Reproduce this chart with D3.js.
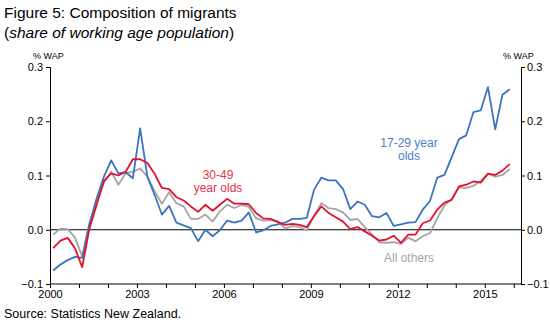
<!DOCTYPE html>
<html>
<head>
<meta charset="utf-8">
<script src="https://cdn.jsdelivr.net/npm/d3@7"></script>
<style>
  body { margin: 0; background: #fff; }
  svg { font-family: Arial, "Liberation Sans", sans-serif; }
</style>
</head>
<body>
<svg width="550" height="322"></svg>
<script>
var svg = d3.select("svg"),
    width = +svg.attr("width"),
    height = +svg.attr("height");

// quarterly, 2000Q1 .. 2015Q4
var startYear = 2000;

var young = [-0.075, -0.064, -0.056, -0.050, -0.052, 0.010, 0.058, 0.098,
  0.128, 0.104, 0.106, 0.095, 0.187, 0.098, 0.064, 0.028,
  0.044, 0.013, 0.008, 0.003, -0.021, 0.000, -0.012, -0.001,
  0.017, 0.013, 0.017, 0.032, -0.005, -0.001, 0.007, 0.010,
  0.013, 0.020, 0.020, 0.022, 0.074, 0.096, 0.091, 0.091,
  0.075, 0.038, 0.052, 0.046, 0.025, 0.023, 0.031, 0.007,
  0.010, 0.013, 0.014, 0.037, 0.053, 0.096, 0.101, 0.134,
  0.167, 0.174, 0.217, 0.220, 0.263, 0.185, 0.249, 0.259];

var middle = [-0.034, -0.020, -0.015, -0.034, -0.069, 0.002, 0.046, 0.090,
  0.104, 0.100, 0.107, 0.130, 0.130, 0.123, 0.103, 0.077,
  0.075, 0.060, 0.054, 0.043, 0.033, 0.046, 0.035, 0.046,
  0.057, 0.048, 0.048, 0.047, 0.031, 0.021, 0.020, 0.014,
  0.009, 0.011, 0.009, 0.005, 0.025, 0.043, 0.031, 0.023,
  0.015, 0.001, 0.005, -0.003, -0.011, -0.020, -0.018, -0.011,
  -0.024, -0.009, -0.009, 0.012, 0.017, 0.037, 0.050, 0.055,
  0.080, 0.083, 0.089, 0.087, 0.103, 0.101, 0.109, 0.121];

var others = [-0.009, 0.002, 0.001, -0.014, -0.049, 0.012, 0.052, 0.086,
  0.107, 0.083, 0.104, 0.107, 0.113, 0.098, 0.071, 0.048,
  0.069, 0.049, 0.043, 0.020, 0.020, 0.028, 0.015, 0.034,
  0.046, 0.040, 0.046, 0.042, 0.021, 0.017, 0.018, 0.016,
  0.002, 0.007, 0.005, -0.001, 0.026, 0.049, 0.040, 0.038,
  0.032, 0.018, 0.020, 0.005, -0.009, -0.023, -0.024, -0.023,
  -0.026, -0.015, -0.021, -0.012, -0.006, 0.021, 0.045, 0.057,
  0.078, 0.077, 0.081, 0.090, 0.104, 0.098, 0.101, 0.112];

var yTicks = [-0.1, 0.0, 0.1, 0.2, 0.3];
var yearTicks = d3.range(2000, 2017);
var yearLabels = [2000, 2003, 2006, 2009, 2012, 2015];

var plotLeft = 50, plotRight = 521, plotTop = 67, plotBottom = 284;

var x = d3.scaleLinear().domain([2000, 2016.25]).range([plotLeft, plotRight]);
var y = d3.scaleLinear().domain([-0.1, 0.3]).range([plotBottom, plotTop]);

var series = [
  { values: others, color: "#a5a5a5" },
  { values: young, color: "#3d74c0" },
  { values: middle, color: "#e2122f" }
];

var line = d3.line()
    .x(function(d, i) { return x(startYear + i / 4 + 0.11); })
    .y(function(d) { return y(d); });

// titles
svg.append("text").attr("x", 4).attr("y", 18)
    .style("font-size", "15.5px").text("Figure 5: Composition of migrants");
var sub = svg.append("text").attr("x", 4).attr("y", 38).style("font-size", "15.5px");
sub.append("tspan").text("(");
sub.append("tspan").style("font-style", "italic").text("share of working age population");
sub.append("tspan").text(")");

// axes
var axisL = svg.append("g").attr("transform", "translate(" + plotLeft + ",0)")
    .call(d3.axisLeft(y).tickValues(yTicks).tickFormat(d3.format(".1f")).tickSize(4).tickPadding(3));
var axisR = svg.append("g").attr("transform", "translate(" + plotRight + ",0)")
    .call(d3.axisRight(y).tickValues(yTicks).tickFormat(d3.format(".1f")).tickSize(4).tickPadding(2));
var axisB = svg.append("g").attr("transform", "translate(0," + plotBottom + ")")
    .call(d3.axisBottom(x).tickValues(yearTicks)
      .tickFormat(function(d) { return yearLabels.indexOf(d) >= 0 ? d : ""; })
      .tickSize(4).tickPadding(2));

[axisL, axisR, axisB].forEach(function(g) {
  g.select(".domain").attr("stroke", "#000").attr("stroke-width", 1);
  g.selectAll(".tick line").attr("stroke", "#000");
  g.selectAll(".tick text").attr("fill", "#000").style("font-size", "11px");
});
axisB.select(".domain").attr("d", "M" + plotLeft + ",0H" + plotRight);

svg.append("text").attr("x", 33).attr("y", 59).style("font-size", "9px").text("% WAP");
svg.append("text").attr("x", 503).attr("y", 59).style("font-size", "9px").text("% WAP");

// zero line
svg.append("line")
    .attr("x1", plotLeft).attr("x2", plotRight)
    .attr("y1", y(0)).attr("y2", y(0))
    .attr("stroke", "#000").attr("stroke-width", 1);

svg.selectAll(".series")
  .data(series)
  .enter().append("path")
    .attr("class", "series")
    .attr("d", function(d) { return line(d.values); })
    .attr("fill", "none")
    .attr("stroke", function(d) { return d.color; })
    .attr("stroke-width", 1.8)
    .attr("stroke-linejoin", "round");

// labels
function label(lines, cx, cy, color) {
  var t = svg.append("text").attr("text-anchor", "middle")
      .style("font-size", "12px").attr("fill", color);
  lines.forEach(function(s, i) {
    t.append("tspan").attr("x", cx).attr("y", cy + i * 12.8).text(s);
  });
}
label(["30-49", "year olds"], 218, 179, "#e8334d");
label(["17-29 year", "olds"], 409, 147, "#4a80c8");
label(["All others"], 409, 262, "#a6a6a6");

svg.append("text").attr("x", 4).attr("y", 318)
    .style("font-size", "12.5px").text("Source: Statistics New Zealand.");
</script>
</body>
</html>
